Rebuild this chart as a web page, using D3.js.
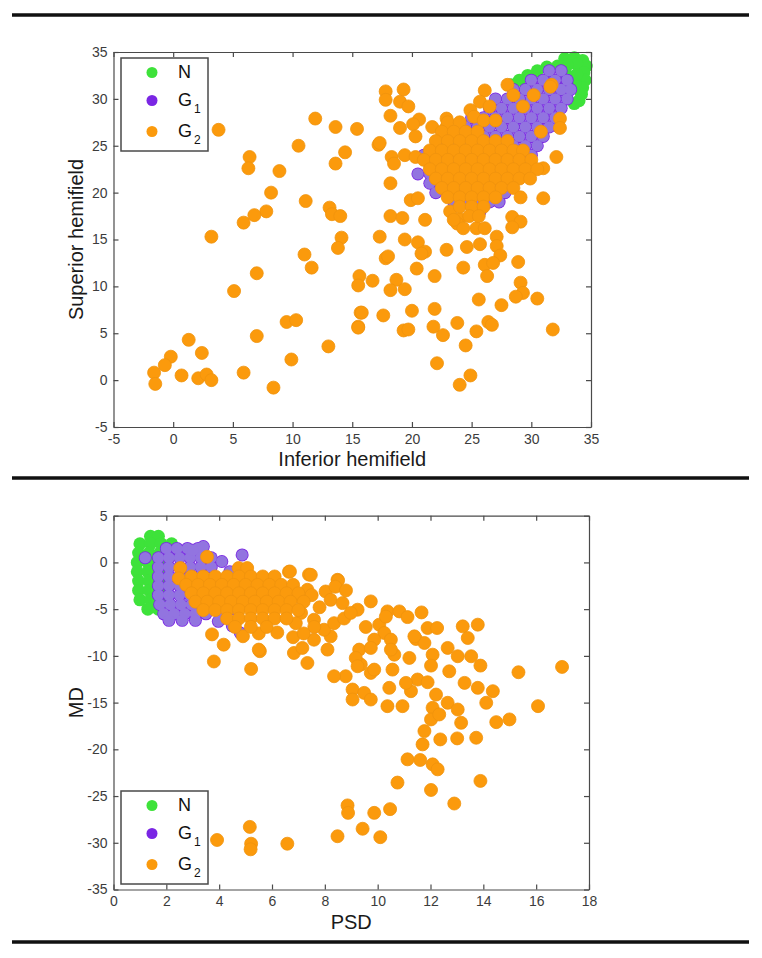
<!DOCTYPE html>
<html>
<head>
<meta charset="utf-8">
<script src="https://cdn.jsdelivr.net/npm/d3@7"></script>
<style>
  body { margin: 0; background: #fff; }
  svg text { font-family: Arial, "Liberation Sans", Helvetica, sans-serif; }
</style>
</head>
<body>
<div id="chart"></div>
<script>
// legend labels (first char normal, rest subscript)
const groupLabels = ["N", "G1", "G2"];

// ---- panel 1: inferior vs superior hemifield ----
const hemiXTicks = [-5, 0, 5, 10, 15, 20, 25, 30, 35];
const hemiYTicks = [-5, 0, 5, 10, 15, 20, 25, 30, 35];

const hemiN = [
  [32.8, 34.3], [33.6, 34.4], [34.3, 34.1], [34.6, 33.5], [33.8, 33.7], [33.0, 33.6],
  [32.2, 33.5], [31.3, 33.4], [30.5, 33.0], [29.7, 32.5], [29.0, 32.0], [28.3, 31.5],
  [34.4, 32.8], [34.5, 32.0], [34.3, 31.2], [34.2, 30.5], [34.0, 29.8], [33.6, 29.5],
  [33.7, 31.5], [33.8, 32.6], [32.9, 32.7], [32.5, 31.0]
];

const hemiG1 = [
  [31.5, 33], [32.5, 33],
  [30.0, 32], [31.0, 32], [32.0, 32], [33.0, 32],
  [28.5, 31], [29.5, 31], [30.5, 31], [31.5, 31], [32.5, 31], [33.3, 31],
  [27.0, 30], [28.0, 30], [29.0, 30], [30.0, 30], [31.0, 30], [32.0, 30], [33.0, 30],
  [26.5, 29], [27.5, 29], [28.5, 29], [29.5, 29], [30.5, 29], [31.5, 29], [32.5, 29],
  [25.0, 28], [26.0, 28], [27.0, 28], [28.0, 28], [29.0, 28], [30.0, 28], [31.0, 28], [32.0, 28],
  [24.5, 27], [25.5, 27], [26.5, 27], [27.5, 27], [28.5, 27], [29.5, 27], [30.5, 27], [31.5, 27], [32.3, 27],
  [23.0, 26], [24.0, 26], [25.0, 26], [26.0, 26], [27.0, 26], [28.0, 26], [29.0, 26], [30.0, 26], [31.0, 26],
  [22.5, 25], [23.5, 25], [24.5, 25], [25.5, 25], [26.5, 25], [27.5, 25], [28.5, 25], [29.5, 25], [30.5, 25],
  [21.0, 24], [22.0, 24], [23.0, 24], [24.0, 24], [25.0, 24], [26.0, 24], [27.0, 24], [28.0, 24], [29.0, 24], [30.0, 24],
  [21.5, 23], [22.5, 23], [23.5, 23], [24.5, 23], [25.5, 23], [26.5, 23], [27.5, 23], [28.5, 23], [29.3, 23],
  [20.5, 22], [21.5, 22], [22.5, 22], [23.5, 22], [24.5, 22], [25.5, 22], [26.5, 22], [27.5, 22], [28.5, 22],
  [21.5, 21], [22.5, 21], [23.5, 21], [24.5, 21], [25.5, 21], [26.5, 21], [27.5, 21],
  [22.0, 20], [23.0, 20], [24.0, 20], [25.0, 20], [26.0, 20], [27.0, 20], [27.8, 20],
  [23.5, 19], [24.5, 19], [25.5, 19], [26.5, 19], [27.3, 19],
  [25.7, 18]
];

const hemiG2 = [
  // scattered points
  [3.8, 26.7], [11.9, 27.9], [13.6, 27.0], [15.4, 26.8], [10.5, 25.0], [14.4, 24.3], [13.6, 23.1],
  [6.4, 23.8], [6.3, 22.6], [8.9, 22.3], [8.2, 20.0], [11.1, 19.1], [13.1, 18.4], [13.3, 17.7],
  [14.0, 17.5], [7.8, 18.0], [6.8, 17.6], [5.9, 16.8], [3.2, 15.3], [14.1, 15.2], [13.8, 14.1],
  [11.0, 13.4], [11.6, 12.0], [7.0, 11.4], [5.1, 9.5], [15.6, 11.1], [15.5, 10.1], [15.7, 7.2],
  [15.5, 5.7], [9.5, 6.2], [10.3, 6.4], [7.0, 4.7], [1.3, 4.3], [2.4, 2.9], [-0.2, 2.5],
  [-0.7, 1.6], [13.0, 3.6], [9.9, 2.2], [-1.6, 0.8], [-1.5, -0.4], [0.7, 0.5], [2.1, 0.2],
  [2.8, 0.6], [3.2, 0.0], [5.9, 0.8], [8.4, -0.8],
  [17.2, 25.1], [18.3, 23.8], [19.4, 24.0], [20.3, 23.8], [18.5, 23.1], [18.2, 21.0], [19.9, 19.2],
  [20.5, 19.4], [18.2, 17.5], [19.2, 17.3], [21.1, 17.1], [17.3, 15.3], [19.4, 15.0], [20.5, 14.7],
  [21.1, 13.7], [20.8, 13.5], [22.9, 13.9], [24.6, 14.2], [25.7, 14.5], [27.1, 15.3], [27.1, 14.3],
  [27.4, 13.3], [28.4, 17.4], [29.1, 16.9], [28.4, 16.3], [28.9, 12.6], [17.8, 13.0], [18.0, 13.2],
  [20.4, 11.9], [21.9, 11.1], [24.3, 12.0], [26.1, 12.3], [26.8, 12.5], [26.3, 11.1], [16.7, 10.6],
  [18.7, 10.7], [18.2, 9.6], [19.4, 9.7], [29.1, 10.4], [29.3, 9.3], [28.7, 8.9], [30.5, 8.7],
  [25.6, 8.6], [27.5, 8.0], [15.8, 7.2], [17.6, 6.9], [20.0, 7.4], [21.9, 7.6], [15.5, 5.6],
  [19.3, 5.3], [19.7, 5.4], [21.8, 5.7], [22.6, 4.8], [23.8, 6.1], [25.4, 5.2], [26.4, 6.2],
  [26.7, 5.9], [24.5, 3.7], [31.8, 5.4], [22.1, 1.8], [24.9, 0.5], [24.0, -0.5],
  [17.8, 30.8], [17.8, 29.9], [19.3, 31.0], [19.0, 29.7], [19.7, 29.2], [18.2, 28.2], [20.6, 27.8],
  [20.1, 27.3], [21.7, 27.0], [22.9, 27.9], [22.9, 27.0], [19.0, 26.9], [20.3, 26.0], [17.3, 25.3],
  [26.1, 30.9], [28.0, 31.5], [31.7, 31.5], [32.4, 27.9], [32.4, 26.9], [32.1, 23.8], [31.0, 22.6],
  [31.0, 19.4], [24.0, 17.2], [23.8, 16.7], [24.3, 16.2], [25.4, 16.2], [26.1, 16.2], [23.2, 18.0],
  [23.5, 17.1],
  [24.9, 28.8], [25.7, 29.7], [26.5, 29.2], [25.2, 28.1], [26.0, 27.7], [27.0, 27.7], [28.5, 30.4],
  [29.3, 29.2], [30.2, 30.4], [31.6, 31.3],
  // dense core
  [23.0, 27.5], [24.0, 27.5],
  [22.5, 26.5], [23.5, 26.5], [24.5, 26.5], [25.5, 26.5], [30.8, 26.5],
  [22.0, 25.5], [23.0, 25.5], [24.0, 25.5], [25.0, 25.5], [26.0, 25.5], [27.0, 25.5], [28.0, 25.5],
  [21.5, 24.5], [22.5, 24.5], [23.5, 24.5], [24.5, 24.5], [25.5, 24.5], [26.5, 24.5], [27.5, 24.5], [28.5, 24.5], [29.3, 24.5],
  [21.0, 23.5], [22.0, 23.5], [23.0, 23.5], [24.0, 23.5], [25.0, 23.5], [26.0, 23.5], [27.0, 23.5], [28.0, 23.5], [29.0, 23.5], [30.0, 23.5],
  [21.5, 22.5], [22.5, 22.5], [23.5, 22.5], [24.5, 22.5], [25.5, 22.5], [26.5, 22.5], [27.5, 22.5], [28.5, 22.5], [29.5, 22.5], [30.5, 22.5],
  [22.0, 21.5], [23.0, 21.5], [24.0, 21.5], [25.0, 21.5], [26.0, 21.5], [27.0, 21.5], [28.0, 21.5], [29.0, 21.5], [29.9, 21.5],
  [22.5, 20.5], [23.5, 20.5], [24.5, 20.5], [25.5, 20.5], [26.5, 20.5], [27.5, 20.5], [28.5, 20.5],
  [23.0, 19.5], [24.0, 19.5], [25.0, 19.5], [26.0, 19.5], [27.0, 19.5], [29.1, 19.5],
  [24.0, 18.5], [25.0, 18.5], [26.0, 18.5],
  [24.8, 17.5], [25.6, 17.5]
];

// ---- panel 2: PSD vs MD ----
const psdXTicks = [0, 2, 4, 6, 8, 10, 12, 14, 16, 18];
const mdYTicks = [-35, -30, -25, -20, -15, -10, -5, 0, 5];

const psdN = [
  [1.4, 2.8], [1.7, 2.8],
  [1.0, 2.0], [1.4, 2.0], [1.8, 2.0], [2.2, 2.0],
  [0.95, 1.0], [1.35, 1.0], [1.75, 1.0], [2.15, 1.0],
  [0.9, 0.0], [1.3, 0.0], [1.7, 0.0],
  [0.9, -1.0], [1.3, -1.0], [1.7, -1.0],
  [0.95, -2.0], [1.35, -2.0], [1.75, -2.0],
  [0.95, -3.0], [1.35, -3.0], [1.75, -3.0],
  [1.0, -4.0], [1.4, -4.0], [1.8, -4.0],
  [1.3, -5.0], [1.7, -5.0]
];

const psdG1 = [
  [2.0, 1.5], [2.4, 1.5], [2.8, 1.5], [3.2, 1.5],
  [1.7, 0.5], [2.1, 0.5], [2.5, 0.5], [2.9, 0.5], [3.3, 0.5], [3.7, 0.5],
  [1.7, -0.5], [2.1, -0.5], [2.5, -0.5], [2.9, -0.5], [3.3, -0.5], [3.7, -0.5],
  [1.7, -1.5], [2.1, -1.5], [2.5, -1.5], [2.9, -1.5], [3.3, -1.5],
  [1.7, -2.5], [2.1, -2.5], [2.5, -2.5], [2.9, -2.5], [3.3, -2.5],
  [1.7, -3.5], [2.1, -3.5], [2.5, -3.5], [2.9, -3.5], [3.3, -3.5],
  [1.75, -4.5], [2.15, -4.5], [2.55, -4.5], [2.95, -4.5], [3.35, -4.5], [3.75, -4.5],
  [1.9, -5.5], [2.3, -5.5], [2.7, -5.5], [3.1, -5.5], [3.5, -5.5], [4.2, -5.5],
  [2.1, -6.2], [2.6, -6.2], [3.1, -6.2],
  [4.5, -6.8], [4.8, -7.55], [3.97, -6.3], [4.1, 0.1], [4.87, 0.8], [1.2, 0.5],
  [3.4, 1.7], [3.0, 1.3], [4.4, -1.0], [4.6, -5.0]
];

const psdG2 = [
  // scattered points
  [2.53, -0.6], [2.47, -1.7], [3.54, 0.6], [4.74, -0.6], [5.06, -0.6], [6.64, -1.0], [7.4, -1.3],
  [8.48, -1.86], [6.68, -0.97], [7.47, -1.33], [8.5, -1.93], [3.73, -7.7], [4.17, -8.8], [3.8, -10.6],
  [5.54, -9.5], [5.21, -11.4], [5.5, -9.33],
  [7.34, -2.93], [7.02, -3.64], [8.03, -3.11], [8.22, -4.0], [8.67, -4.35], [9.24, -5.06], [9.74, -4.17],
  [10.37, -5.24], [10.82, -5.24], [11.13, -5.85], [11.66, -5.35], [9.55, -6.91], [10.06, -6.66],
  [10.25, -7.55], [9.87, -8.26], [10.5, -8.26], [9.3, -9.33], [9.74, -9.15], [9.36, -10.93],
  [9.74, -11.82], [10.56, -11.47], [11.2, -10.22], [10.63, -9.87], [11.45, -8.19], [11.77, -8.62],
  [11.89, -7.02], [12.25, -7.02], [12.08, -9.87], [12.02, -11.04], [12.65, -9.15], [13.22, -6.84],
  [13.79, -6.66], [13.41, -8.09], [13.03, -10.04], [13.54, -10.04], [12.71, -11.65], [13.89, -11.04],
  [15.33, -11.75], [16.98, -11.18], [13.29, -12.89], [13.79, -13.42], [14.36, -13.78], [14.11, -15.02],
  [16.07, -15.38], [14.99, -16.8], [14.49, -17.09], [12.21, -14.14], [12.65, -15.02], [13.03, -15.74],
  [13.16, -17.16], [12.08, -15.56], [12.02, -16.8], [12.33, -16.27], [11.77, -18.05], [11.7, -19.47],
  [12.37, -18.94], [13.01, -18.83], [13.73, -18.76], [11.13, -21.07], [11.61, -21.14], [12.08, -21.61],
  [12.27, -22.14], [10.75, -23.56], [13.89, -23.38], [12.02, -24.35], [8.79, -12.18], [8.35, -12.18],
  [9.05, -13.6], [9.49, -13.96], [9.74, -14.67], [10.37, -15.38], [10.94, -15.38], [9.05, -14.67],
  [10.44, -13.42], [11.26, -13.78], [11.51, -12.53], [11.89, -12.82], [11.07, -12.89], [7.34, -10.76],
  [6.83, -9.69], [7.15, -9.15], [8.1, -9.33], [7.59, -8.27], [8.22, -7.91], [10.31, -5.8], [11.39, -7.91],
  [10.5, -9.33], [9.17, -10.22], [9.24, -11.11], [9.87, -11.47],
  [7.1, -5.4], [7.59, -6.13], [7.97, -7.2], [8.35, -6.5], [8.73, -6.0], [8.98, -5.4], [7.5, -3.5],
  [7.8, -4.8], [6.9, -6.5], [7.6, -6.9], [8.4, -2.6], [8.8, -3.0], [6.2, -7.5], [6.8, -8.0],
  [5.5, -7.6], [4.9, -7.9], [7.2, -7.6],
  [3.92, -29.7], [5.16, -28.3], [5.21, -30.1], [5.19, -30.7], [6.58, -30.1], [8.48, -29.3],
  [8.86, -26.0], [8.88, -26.8], [9.43, -28.5], [9.87, -26.8], [10.1, -29.4], [10.47, -26.4],
  [12.9, -25.8],
  // dense core
  [2.95, -1.5], [3.4, -1.5], [3.85, -1.5], [4.3, -1.5], [4.75, -1.5], [5.2, -1.5], [5.65, -1.5], [6.1, -1.5],
  [2.75, -2.4], [3.2, -2.4], [3.65, -2.4], [4.1, -2.4], [4.55, -2.4], [5.0, -2.4], [5.45, -2.4], [5.9, -2.4], [6.35, -2.4], [6.8, -2.4],
  [2.95, -3.3], [3.4, -3.3], [3.85, -3.3], [4.3, -3.3], [4.75, -3.3], [5.2, -3.3], [5.65, -3.3], [6.1, -3.3], [6.55, -3.3], [7.0, -3.3],
  [3.1, -4.2], [3.55, -4.2], [4.0, -4.2], [4.45, -4.2], [4.9, -4.2], [5.35, -4.2], [5.8, -4.2], [6.25, -4.2], [6.7, -4.2], [7.2, -4.2],
  [3.4, -5.1], [3.85, -5.1], [4.3, -5.1], [4.75, -5.1], [5.2, -5.1], [5.65, -5.1], [6.1, -5.1], [6.55, -5.1], [7.0, -5.1],
  [4.3, -6.0], [4.75, -6.0], [5.2, -6.0], [5.65, -6.0], [6.1, -6.0], [6.55, -6.0],
  [4.6, -6.9], [5.2, -6.9], [5.8, -6.9]
];

const W = 762, H = 958;
const colN = "#3ee23a", colG1 = "#7a26e4", colG1in = "#9274e0", colG2 = "#fb9a0c", colG2edge = "#f0930d";

const svg = d3.select("#chart").append("svg")
  .attr("width", W)
  .attr("height", H);

svg.append("rect").attr("width", W).attr("height", H).attr("fill", "#fff");

// horizontal rules between figures
[15, 478, 942].forEach(function (ry) {
  svg.append("line")
    .attr("x1", 12).attr("x2", 749)
    .attr("y1", ry).attr("y2", ry)
    .attr("stroke", "#111")
    .attr("stroke-width", 3.5);
});

function dots(g, pts, x, y, r, fill, stroke) {
  g.append("g")
    .selectAll("circle")
    .data(pts)
    .join("circle")
    .attr("cx", d => x(d[0]))
    .attr("cy", d => y(d[1]))
    .attr("r", r)
    .attr("fill", fill)
    .attr("stroke", stroke || "none")
    .attr("stroke-width", stroke ? 0.8 : 0);
}

function panel(o) {
  const x = d3.scaleLinear().domain(o.xDomain).range([o.left, o.right]);
  const y = d3.scaleLinear().domain(o.yDomain).range([o.bottom, o.top]);
  const g = svg.append("g");

  // points: N under G1 under G2 (G1 dark rim + lavender face)
  dots(g, o.n, x, y, 6.5, colN);
  dots(g, o.g1, x, y, 6.5, colG1);
  dots(g, o.g1, x, y, 5.7, colG1in);
  dots(g, o.g2, x, y, 6.5, colG2, colG2edge);

  const fmt = d => String(d);
  const ax = g.append("g").attr("class", "axes");

  ax.append("g")
    .attr("transform", `translate(0,${o.bottom})`)
    .call(d3.axisBottom(x).tickValues(o.xTicks).tickFormat(fmt).tickSizeInner(-5).tickSizeOuter(0).tickPadding(7));
  ax.append("g")
    .attr("transform", `translate(0,${o.top})`)
    .call(d3.axisTop(x).tickValues(o.xTicks).tickFormat("").tickSizeInner(-5).tickSizeOuter(0));
  ax.append("g")
    .attr("transform", `translate(${o.left},0)`)
    .call(d3.axisLeft(y).tickValues(o.yTicks).tickFormat(fmt).tickSizeInner(-5).tickSizeOuter(0).tickPadding(6));
  ax.append("g")
    .attr("transform", `translate(${o.right},0)`)
    .call(d3.axisRight(y).tickValues(o.yTicks).tickFormat("").tickSizeInner(-5).tickSizeOuter(0));

  ax.selectAll("path, line").attr("stroke", "#4a4a4a").attr("stroke-width", 1.2);
  ax.selectAll("text").attr("font-size", "14px").attr("fill", "#3c3c3c");

  // axis titles
  g.append("text")
    .attr("x", (o.left + o.right) / 2)
    .attr("y", o.bottom + 39)
    .attr("text-anchor", "middle")
    .attr("font-size", "20px")
    .attr("fill", "#1a1a1a")
    .text(o.xLabel);
  g.append("text")
    .attr("transform", `translate(83,${(o.top + o.bottom) / 2}) rotate(-90)`)
    .attr("text-anchor", "middle")
    .attr("font-size", "20px")
    .attr("fill", "#1a1a1a")
    .text(o.yLabel);

  // legend
  const lg = g.append("g").attr("transform", `translate(121,${o.legendTop})`);
  lg.append("rect")
    .attr("width", 87).attr("height", 93)
    .attr("fill", "#fff")
    .attr("stroke", "#4a4a4a")
    .attr("stroke-width", 1.5);
  const rowY = [14.5, 42.5, 73.5];
  const legCols = [colN, colG1, colG2];
  const items = lg.selectAll("g.item")
    .data(groupLabels)
    .join("g")
    .attr("class", "item")
    .attr("transform", (d, i) => `translate(0,${rowY[i]})`);
  items.append("circle")
    .attr("cx", 31).attr("cy", 0).attr("r", 5.5)
    .attr("fill", (d, i) => legCols[i]);
  const t = items.append("text")
    .attr("x", 57).attr("y", 5)
    .attr("font-size", "18px")
    .attr("fill", "#111");
  t.append("tspan").text(d => d[0]);
  t.append("tspan")
    .attr("dx", 2).attr("dy", 7)
    .attr("font-size", "12px")
    .text(d => d.slice(1));
}

panel({
  left: 113.5, right: 591, top: 52, bottom: 427,
  xDomain: [-5, 35], yDomain: [-5, 35],
  xTicks: hemiXTicks, yTicks: hemiYTicks,
  n: hemiN, g1: hemiG1, g2: hemiG2,
  xLabel: "Inferior hemifield", yLabel: "Superior hemifield",
  legendTop: 58
});

panel({
  left: 113.5, right: 589, top: 515.7, bottom: 889.5,
  xDomain: [0, 18], yDomain: [-35, 5],
  xTicks: psdXTicks, yTicks: mdYTicks,
  n: psdN, g1: psdG1, g2: psdG2,
  xLabel: "PSD", yLabel: "MD",
  legendTop: 791
});
</script>
</body>
</html>
